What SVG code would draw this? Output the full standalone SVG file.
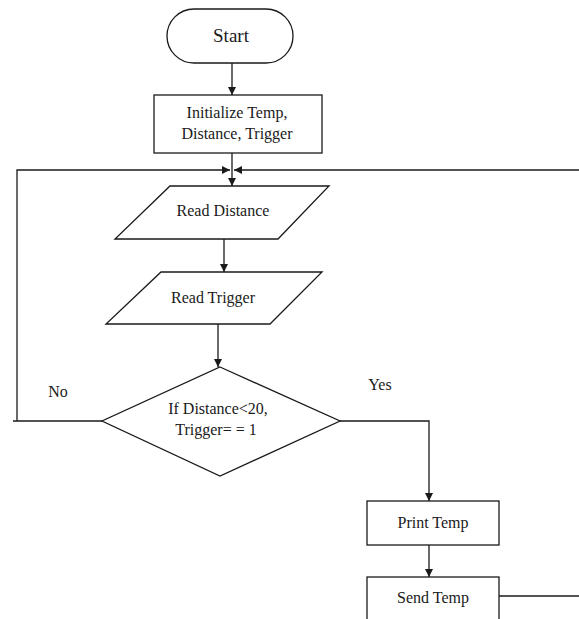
<svg xmlns="http://www.w3.org/2000/svg" width="579" height="619" viewBox="0 0 579 619">
<defs>
<marker id="ah" viewBox="0 0 10 10" refX="10" refY="5" markerWidth="8" markerHeight="8" markerUnits="userSpaceOnUse" orient="auto">
<path d="M0,0 L10,5 L0,10 Z" fill="#1a1a1a"/>
</marker>
<style>
.s{fill:#fff;stroke:#1a1a1a;stroke-width:1.3}
.c{fill:none;stroke:#1a1a1a;stroke-width:1.3}
.t{font-family:"Liberation Serif","Times New Roman",serif;font-size:16px;fill:#1a1a1a;text-anchor:middle}
</style>
</defs>
<rect width="579" height="619" fill="#fff"/>
<g id="connectors">
<line class="c" x1="232" y1="63" x2="232" y2="95" marker-end="url(#ah)"/>
<line class="c" x1="232" y1="153" x2="232" y2="186" marker-end="url(#ah)"/>
<polyline class="c" points="102,421 13,421"/>
<polyline class="c" points="17,421 17,170 230,170" marker-end="url(#ah)"/>
<line class="c" x1="579" y1="170" x2="234" y2="170" marker-end="url(#ah)"/>
<line class="c" x1="224" y1="239" x2="224" y2="272" marker-end="url(#ah)"/>
<line class="c" x1="218" y1="324" x2="218" y2="367" marker-end="url(#ah)"/>
<polyline class="c" points="340,421 429,421 429,501" marker-end="url(#ah)"/>
<line class="c" x1="429" y1="545" x2="429" y2="577" marker-end="url(#ah)"/>
<line class="c" x1="499" y1="596" x2="579" y2="596"/>
<text class="t" x="58" y="397">No</text>
<text class="t" x="380" y="390">Yes</text>
</g>
<g id="start">
<rect class="s" x="167" y="9" width="126" height="54" rx="27" ry="27"/>
<text class="t" x="231" y="42" style="font-size:19px">Start</text>
</g>
<g id="init">
<rect class="s" x="154" y="95" width="168" height="58"/>
<text class="t" x="237" y="118">Initialize Temp,</text>
<text class="t" x="237" y="139">Distance, Trigger</text>
</g>
<g id="read-distance">
<polygon class="s" points="170,186 329,186 278,239 115,239"/>
<text class="t" x="223" y="216">Read Distance</text>
</g>
<g id="read-trigger">
<polygon class="s" points="161,272 322,272 270,324 106,324"/>
<text class="t" x="213" y="303">Read Trigger</text>
</g>
<g id="decision">
<polygon class="s" points="220,367 340,421 220,476 102,421"/>
<text class="t" x="218" y="414">If Distance&lt;20,</text>
<text class="t" x="216" y="435">Trigger= = 1</text>
</g>
<g id="print-temp">
<rect class="s" x="367" y="501" width="132" height="44"/>
<text class="t" x="433" y="528">Print Temp</text>
</g>
<g id="send-temp">
<rect class="s" x="367" y="577" width="132" height="60"/>
<text class="t" x="433" y="603">Send Temp</text>
</g>
</svg>
